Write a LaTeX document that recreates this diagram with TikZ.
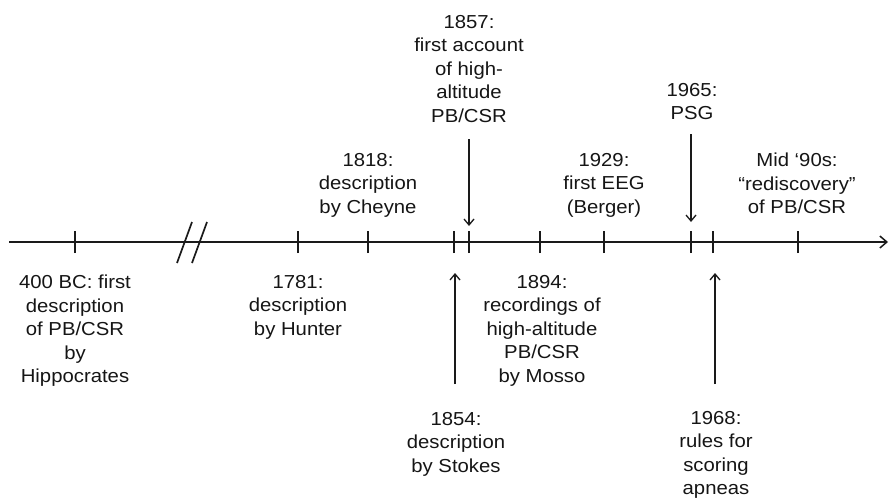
\documentclass[tikz,border=0pt]{standalone}
\usepackage{fontspec}
\setmainfont{Liberation Sans}[FakeStretch=1.08]
\usetikzlibrary{arrows.meta}
\definecolor{txt}{HTML}{151515}
\definecolor{ln}{HTML}{1A1A1A}
\tikzset{
  lbl/.style={align=center, inner sep=0pt, anchor=north, text=txt,
    font=\fontsize{18.8}{23.5}\selectfont},
  axis/.style={draw=ln, line width=1.7pt},
  tick/.style={draw=ln, line width=1.7pt},
  pointer/.style={draw=ln, line width=1.3pt, -{Straight Barb[length=6pt,width=10pt,line width=1.3pt]}},
}
\begin{document}
\begin{tikzpicture}[x=1pt,y=-1pt]
\useasboundingbox (0,0) rectangle (890,498);
% axis
\coordinate (start) at (9,242);
\coordinate (end) at (888,242);
\draw[axis, -{Straight Barb[length=7pt,width=12pt,line width=1.5pt]}] (start) -- (end);
% ticks
\foreach \n/\x in {t400/75, t1781/298, t1818/368, t1854/454, t1857/469, t1894/540, t1929/604, t1965/691, t1968/713, t1990/798}{
  \coordinate (\n) at (\x,242);
  \draw[tick] ([yshift=-11pt]\n) -- ([yshift=11pt]\n);
}
% break marks
\coordinate (b1a) at (177,263); \coordinate (b1b) at (192,222);
\coordinate (b2a) at (192,263); \coordinate (b2b) at (207,222);
\draw[tick] (b1a) -- (b1b);
\draw[tick] (b2a) -- (b2b);
% labels below
\node[lbl] (l400) at (75,275) {400 BC: first\\description\\of PB/CSR\\by\\Hippocrates};
\node[lbl] (l1781) at (298,275) {1781:\\description\\by Hunter};
\node[lbl] (l1894) at (542,275) {1894:\\recordings of\\high-altitude\\PB/CSR\\by Mosso};
\node[lbl] (l1854) at (456,412) {1854:\\description\\by Stokes};
\node[lbl] (l1968) at (716,411) {1968:\\rules for\\scoring\\apneas};
% labels above
\node[lbl] (l1818) at (368,153) {1818:\\description\\by Cheyne};
\node[lbl] (l1857) at (469,15) {1857:\\first account\\of high-\\altitude\\PB/CSR};
\node[lbl] (l1929) at (604,153) {1929:\\first EEG\\(Berger)};
\node[lbl] (l1965) at (692,83) {1965:\\PSG};
\node[lbl] (l1990) at (797,153) {Mid ‘90s:\\“rediscovery”\\of PB/CSR};
% pointers
\coordinate (p1857s) at (469,139); \coordinate (p1857e) at (469,226);
\coordinate (p1965s) at (691,134); \coordinate (p1965e) at (691,222);
\coordinate (p1854s) at (455,384); \coordinate (p1854e) at (455,273);
\coordinate (p1968s) at (715,384); \coordinate (p1968e) at (715,273);
\draw[pointer] (p1857s) -- (p1857e);
\draw[pointer] (p1965s) -- (p1965e);
\draw[pointer] (p1854s) -- (p1854e);
\draw[pointer] (p1968s) -- (p1968e);
\end{tikzpicture}
\end{document}
